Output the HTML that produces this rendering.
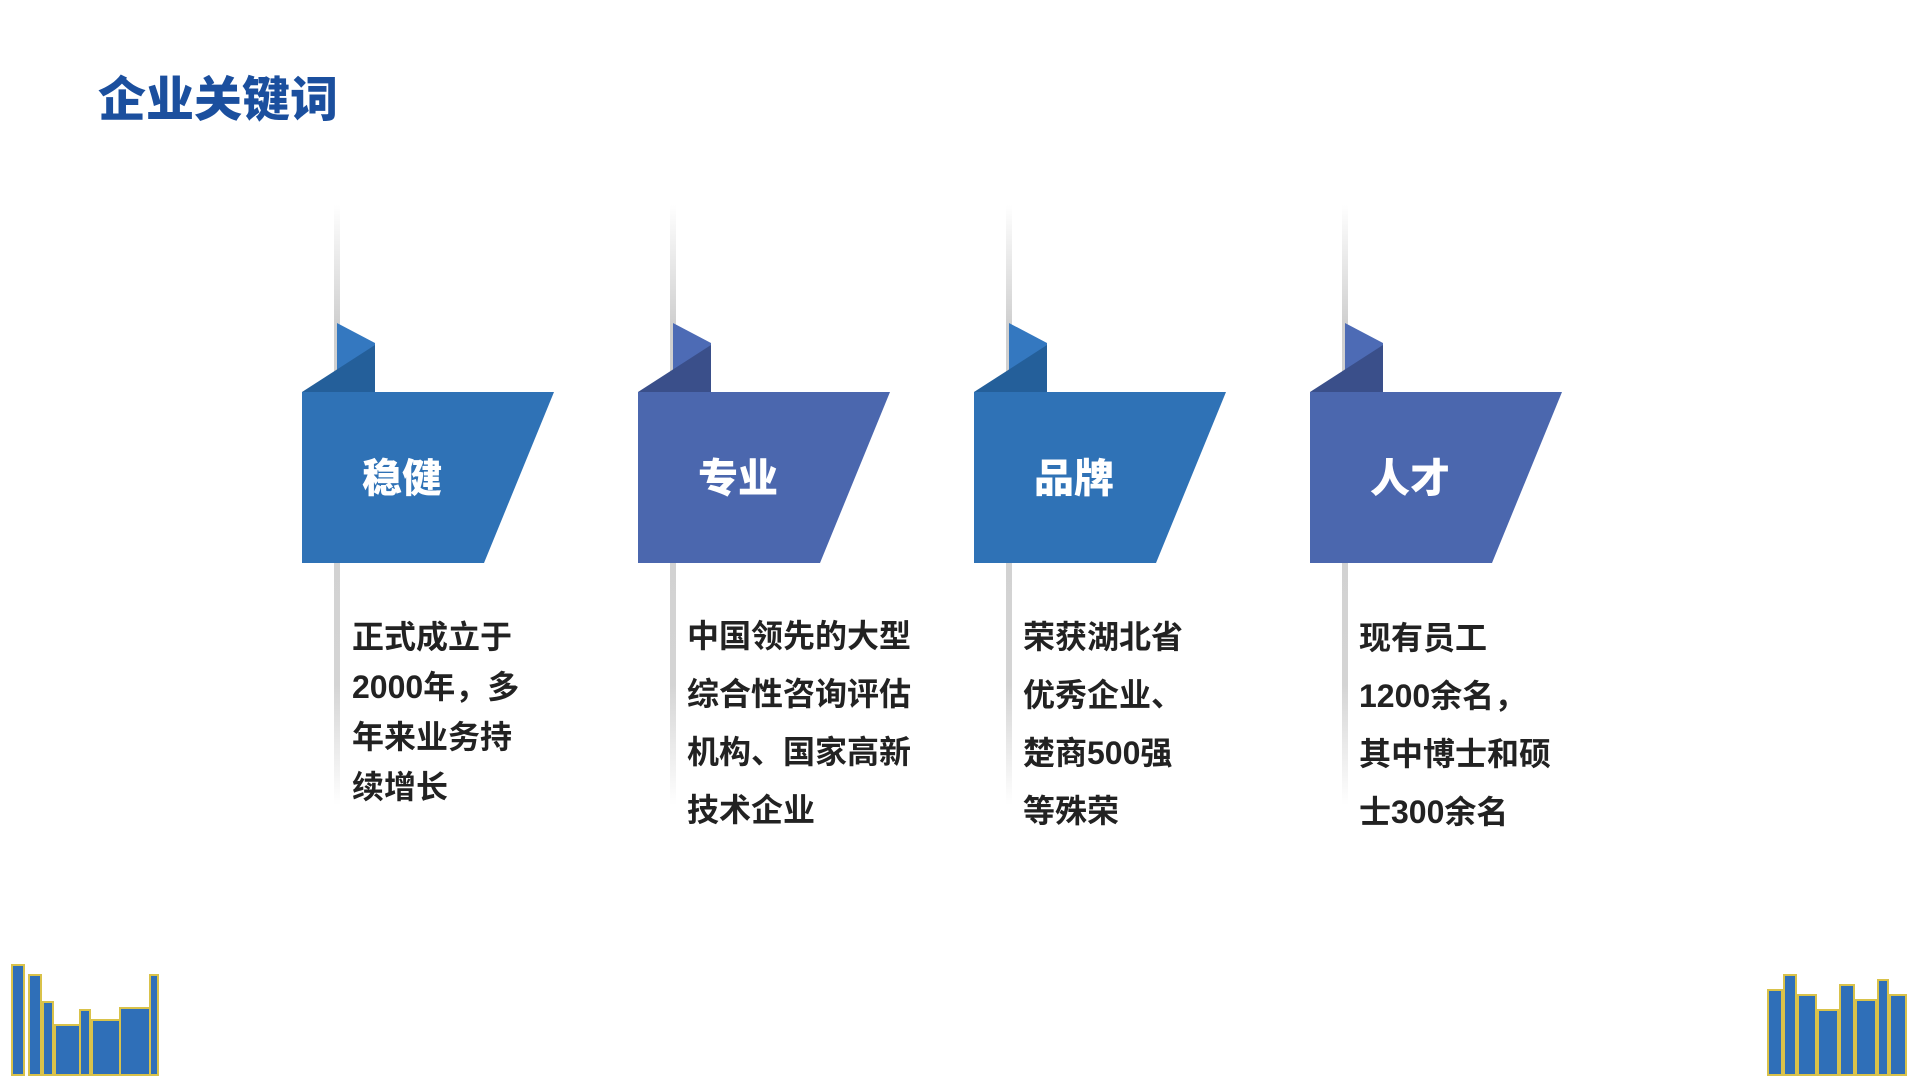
<!DOCTYPE html>
<html><head><meta charset="utf-8"><style>
body{margin:0;width:1918px;height:1080px;background:#fff;position:relative;overflow:hidden;font-family:"Liberation Sans","Noto Sans CJK SC",sans-serif}
.t{position:absolute;left:98px;top:60px;font-size:48px;font-weight:900;color:#1b4f9e}
.line{position:absolute;width:6px;top:205px;height:600px;background:linear-gradient(to bottom,rgba(200,200,200,0),#cfcfcf 20%,#d4d4d4 80%,rgba(200,200,200,0));}
.k{position:absolute;color:#fff;font-weight:900;font-size:40px}
.p{position:absolute;font-size:32px;font-weight:700;color:#222;line-height:50px}
</style></head><body>
<div class="t">企业关键词</div>
<div class="line" style="left:334px"></div>
<div class="line" style="left:670px"></div>
<div class="line" style="left:1006px"></div>
<div class="line" style="left:1342px"></div>
<svg width="1918" height="1080" style="position:absolute;left:0;top:0">
<g transform="translate(0,0)">
<polygon points="337,323 375,343 375,392 337,392" fill="#3478c0"/><polygon points="302,392 375,345 375,392" fill="#245f9a"/>
<polygon points="302,392 554,392 484,563 302,563" fill="#2f72b6"/></g>
<g transform="translate(336,0)">
<polygon points="337,323 375,343 375,392 337,392" fill="#4d6bb5"/><polygon points="302,392 375,345 375,392" fill="#3a4f8a"/>
<polygon points="302,392 554,392 484,563 302,563" fill="#4b67ae"/></g>
<g transform="translate(672,0)">
<polygon points="337,323 375,343 375,392 337,392" fill="#3478c0"/><polygon points="302,392 375,345 375,392" fill="#245f9a"/>
<polygon points="302,392 554,392 484,563 302,563" fill="#2f72b6"/></g>
<g transform="translate(1008,0)">
<polygon points="337,323 375,343 375,392 337,392" fill="#4d6bb5"/><polygon points="302,392 375,345 375,392" fill="#3a4f8a"/>
<polygon points="302,392 554,392 484,563 302,563" fill="#4b67ae"/></g>
<g fill="#2f6fb8" stroke="#d9c24a" stroke-width="2">
<rect x="12" y="965" width="12" height="110"/><rect x="29" y="975" width="12" height="100"/><rect x="43" y="1002" width="10" height="73"/>
<rect x="55" y="1025" width="25" height="50"/><rect x="80" y="1010" width="10" height="65"/><rect x="92" y="1020" width="28" height="55"/>
<rect x="120" y="1008" width="36" height="67"/><rect x="150" y="975" width="8" height="100"/>
<rect x="1768" y="990" width="14" height="85"/><rect x="1784" y="975" width="12" height="100"/><rect x="1798" y="995" width="18" height="80"/>
<rect x="1818" y="1010" width="20" height="65"/><rect x="1840" y="985" width="14" height="90"/><rect x="1856" y="1000" width="20" height="75"/><rect x="1878" y="980" width="10" height="95"/><rect x="1890" y="995" width="16" height="80"/>
</g>
</svg>
<div class="k" style="left:362px;top:446px">稳健</div>
<div class="k" style="left:698px;top:446px">专业</div>
<div class="k" style="left:1034px;top:446px">品牌</div>
<div class="k" style="left:1370px;top:446px">人才</div>
<div class="p" style="left:352px;top:612px">正式成立于<br>2000年，多<br>年来业务持<br>续增长</div>
<div class="p" style="left:687px;top:607px;line-height:58px">中国领先的大型<br>综合性咨询评估<br>机构、国家高新<br>技术企业</div>
<div class="p" style="left:1023px;top:608px;line-height:58px">荣获湖北省<br>优秀企业、<br>楚商500强<br>等殊荣</div>
<div class="p" style="left:1359px;top:609px;line-height:58px">现有员工<br>1200余名，<br>其中博士和硕<br>士300余名</div>
</body></html>
